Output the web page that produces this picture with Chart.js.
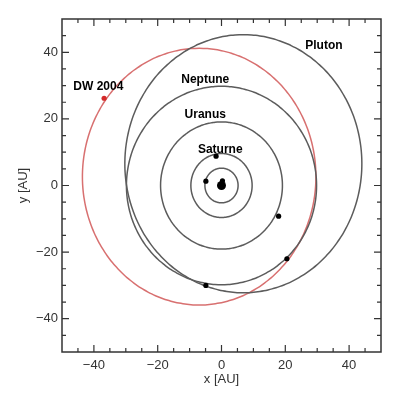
<!DOCTYPE html>
<html>
<head>
<meta charset="utf-8">
<script src="https://cdn.jsdelivr.net/npm/chart.js@4"></script>
<style>
  body { margin: 0; background: #fff; }
</style>
</head>
<body>
<canvas id="orbitChart" width="398" height="403"></canvas>
<script>
// orbits (AU): centre and semi-axes
const orbitNames = ['Jupiter', 'Saturne', 'Uranus', 'Neptune', 'Pluton', 'DW 2004'];
const orbitCenterX = [0, 0, 0, 0, 6.85, -7.0];
const orbitCenterY = [0, 0, 0, 0, 6.55, 2.65];
const orbitRadiusX = [5.2, 9.6, 19.1, 29.8, 37.15, 36.6];
const orbitRadiusY = [5.2, 9.6, 19.1, 29.8, 38.75, 38.55];

// bodies (AU)
const bodyX = [0, 0.3, -4.9, -1.7, 17.9, 20.5, -4.9];
const bodyY = [0, 1.4, 1.3, 8.8, -9.2, -22.0, -30.0];
const dwX = [-36.8];
const dwY = [26.2];

// labels (AU)
const labelText = ['Pluton', 'DW 2004', 'Neptune', 'Uranus', 'Saturne'];
const labelX = [32.1, -38.6, -5.1, -5.1, -0.4];
const labelY = [41.9, 29.7, 31.8, 21.3, 10.8];

const tickLabels = [-40, -20, 0, 20, 40];
const minorStep = 5;

function orbitPoints(i) {
  let pts = [];
  for (let k = 0; k <= 180; k++) {
    let t = (k / 180) * 2 * Math.PI;
    pts.push({ x: orbitCenterX[i] + orbitRadiusX[i] * Math.cos(t), y: orbitCenterY[i] + orbitRadiusY[i] * Math.sin(t) });
  }
  return pts;
}

let datasets = orbitNames.map((name, i) => ({
  label: name,
  data: orbitPoints(i),
  showLine: true,
  pointRadius: 0,
  tension: 0.3, // keeps chart.js off the fast path, which breaks closed curves
  borderWidth: 1.5,
  borderColor: name == 'DW 2004' ? '#d87070' : '#5c5c5c',
  order: 2,
}));

datasets.push({
  label: 'bodies',
  data: bodyX.map((x, i) => ({ x: x, y: bodyY[i] })),
  pointRadius: [4.5, 2.6, 2.6, 2.6, 2.6, 2.6, 2.6],
  backgroundColor: '#000',
  borderWidth: 0,
  order: 0,
});
datasets.push({
  label: 'DW 2004 pos',
  data: dwX.map((x, i) => ({ x: x, y: dwY[i] })),
  pointRadius: 2.6,
  backgroundColor: '#d42a2a',
  borderWidth: 0,
  order: 0,
});

const fmt = (v) => (v < 0 ? '\u2212' + Math.abs(v) : '' + v);

const frameTicks = {
  id: 'frameTicks',
  afterDraw(chart) {
    const ctx = chart.ctx;
    const a = chart.chartArea;
    const sx = chart.scales.x;
    const sy = chart.scales.y;
    ctx.save();
    ctx.strokeStyle = '#333';
    ctx.lineWidth = 1.5;
    ctx.strokeRect(a.left, a.top, a.right - a.left, a.bottom - a.top);
    ctx.lineWidth = 1.2;
    ctx.beginPath();
    for (let v = -45; v <= 45; v += minorStep) {
      let len = tickLabels.includes(v) ? 7 : 4;
      let px = sx.getPixelForValue(v);
      ctx.moveTo(px, a.bottom); ctx.lineTo(px, a.bottom - len);
      ctx.moveTo(px, a.top); ctx.lineTo(px, a.top + len);
      let py = sy.getPixelForValue(v);
      ctx.moveTo(a.left, py); ctx.lineTo(a.left + len, py);
      ctx.moveTo(a.right, py); ctx.lineTo(a.right - len, py);
    }
    ctx.stroke();

    ctx.fillStyle = '#000';
    ctx.font = 'bold 12px "Liberation Sans", Arial, sans-serif';
    ctx.textAlign = 'center';
    ctx.textBaseline = 'middle';
    labelText.forEach((t, i) => {
      ctx.fillText(t, sx.getPixelForValue(labelX[i]), sy.getPixelForValue(labelY[i]));
    });
    ctx.restore();
  },
};

const axisFont = { family: '"Liberation Sans", Arial, sans-serif', size: 13 };

var ctx = document.getElementById('orbitChart').getContext('2d');
var orbitChart = new Chart(ctx, {
  type: 'scatter',
  data: { datasets: datasets },
  options: {
    responsive: false,
    animation: false,
    layout: { padding: { left: 0, right: 17, top: 19, bottom: 0 } },
    plugins: { legend: { display: false }, tooltip: { enabled: false } },
    scales: {
      x: {
        type: 'linear',
        min: -50,
        max: 50,
        afterBuildTicks: (s) => { s.ticks = tickLabels.map((v) => ({ value: v })); },
        afterFit: (s) => { s.height = 51; },
        grid: { display: false, drawTicks: false },
        border: { display: false },
        ticks: { callback: fmt, color: '#333', font: axisFont, padding: 6, maxRotation: 0 },
        title: { display: true, text: 'x [AU]', color: '#333', font: axisFont, padding: 16 },
      },
      y: {
        type: 'linear',
        min: -50,
        max: 50,
        afterBuildTicks: (s) => { s.ticks = tickLabels.map((v) => ({ value: v })); },
        afterFit: (s) => { s.width = 62; },
        grid: { display: false, drawTicks: false },
        border: { display: false },
        ticks: { callback: fmt, color: '#333', font: axisFont, padding: 4 },
        title: { display: true, text: 'y [AU]', color: '#333', font: axisFont, padding: 16 },
      },
    },
  },
  plugins: [frameTicks],
});
</script>
</body>
</html>
